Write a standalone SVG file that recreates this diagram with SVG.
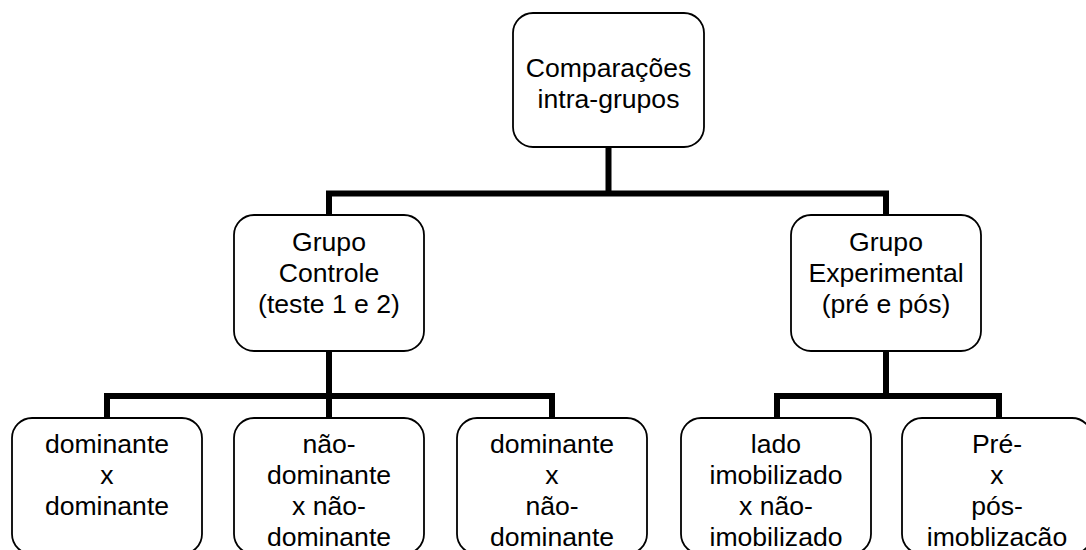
<svg xmlns="http://www.w3.org/2000/svg" width="1086" height="550" viewBox="0 0 1086 550">
<style>
.box{fill:#fff;stroke:#000;stroke-width:1.8}
.t{font-family:"Liberation Sans",Arial,sans-serif;font-size:26.6px;fill:#000;text-anchor:middle}
.c{fill:none;stroke:#000;stroke-width:6;stroke-linecap:butt;stroke-linejoin:miter}
</style>
<rect width="1086" height="550" fill="#fff"/>
<g id="connectors">
<path class="c" d="M608.5,147 V193.5 M329,215 V193.5 H886 V215"/>
<path class="c" d="M329,351 V396 M107,418 V396 H552 V418 M329,396 V418"/>
<path class="c" d="M886,351 V396 M777,418 V396 H999 V418"/>
</g>
<g id="n-top">
<rect class="box" x="513" y="13" width="191" height="134" rx="20"/>
<text class="t"><tspan x="608.5" y="76.8">Comparações</tspan><tspan x="608.5" y="108">intra-grupos</tspan></text>
</g>
<g id="n-controle">
<rect class="box" x="234" y="215" width="190" height="136" rx="20"/>
<text class="t"><tspan x="329" y="250.7">Grupo</tspan><tspan x="329" y="282">Controle</tspan><tspan x="329" y="313.3">(teste 1 e 2)</tspan></text>
</g>
<g id="n-experimental">
<rect class="box" x="791" y="215" width="190" height="136" rx="20"/>
<text class="t"><tspan x="886" y="250.7">Grupo</tspan><tspan x="886" y="282">Experimental</tspan><tspan x="886" y="313.3">(pré e pós)</tspan></text>
</g>
<g id="n-b1">
<rect class="box" x="12" y="418" width="190" height="136" rx="20"/>
<text class="t"><tspan x="107" y="452.5">dominante</tspan><tspan x="107" y="483.8">x</tspan><tspan x="107" y="515">dominante</tspan></text>
</g>
<g id="n-b2">
<rect class="box" x="234" y="418" width="190" height="136" rx="20"/>
<text class="t"><tspan x="329" y="452.5">não-</tspan><tspan x="329" y="483.8">dominante</tspan><tspan x="329" y="515">x não-</tspan><tspan x="329" y="546.3">dominante</tspan></text>
</g>
<g id="n-b3">
<rect class="box" x="457" y="418" width="190" height="136" rx="20"/>
<text class="t"><tspan x="552" y="452.5">dominante</tspan><tspan x="552" y="483.8">x</tspan><tspan x="552" y="515">não-</tspan><tspan x="552" y="546.3">dominante</tspan></text>
</g>
<g id="n-b4">
<rect class="box" x="681" y="418" width="190" height="136" rx="20"/>
<text class="t"><tspan x="776" y="452.5">lado</tspan><tspan x="776" y="483.8">imobilizado</tspan><tspan x="776" y="515">x não-</tspan><tspan x="776" y="546.3">imobilizado</tspan></text>
</g>
<g id="n-b5">
<rect class="box" x="902" y="418" width="190" height="136" rx="20"/>
<text class="t"><tspan x="997" y="452.5">Pré-</tspan><tspan x="997" y="483.8">x</tspan><tspan x="997" y="515">pós-</tspan><tspan x="997" y="546.3">imoblizacão</tspan></text>
</g>
</svg>
